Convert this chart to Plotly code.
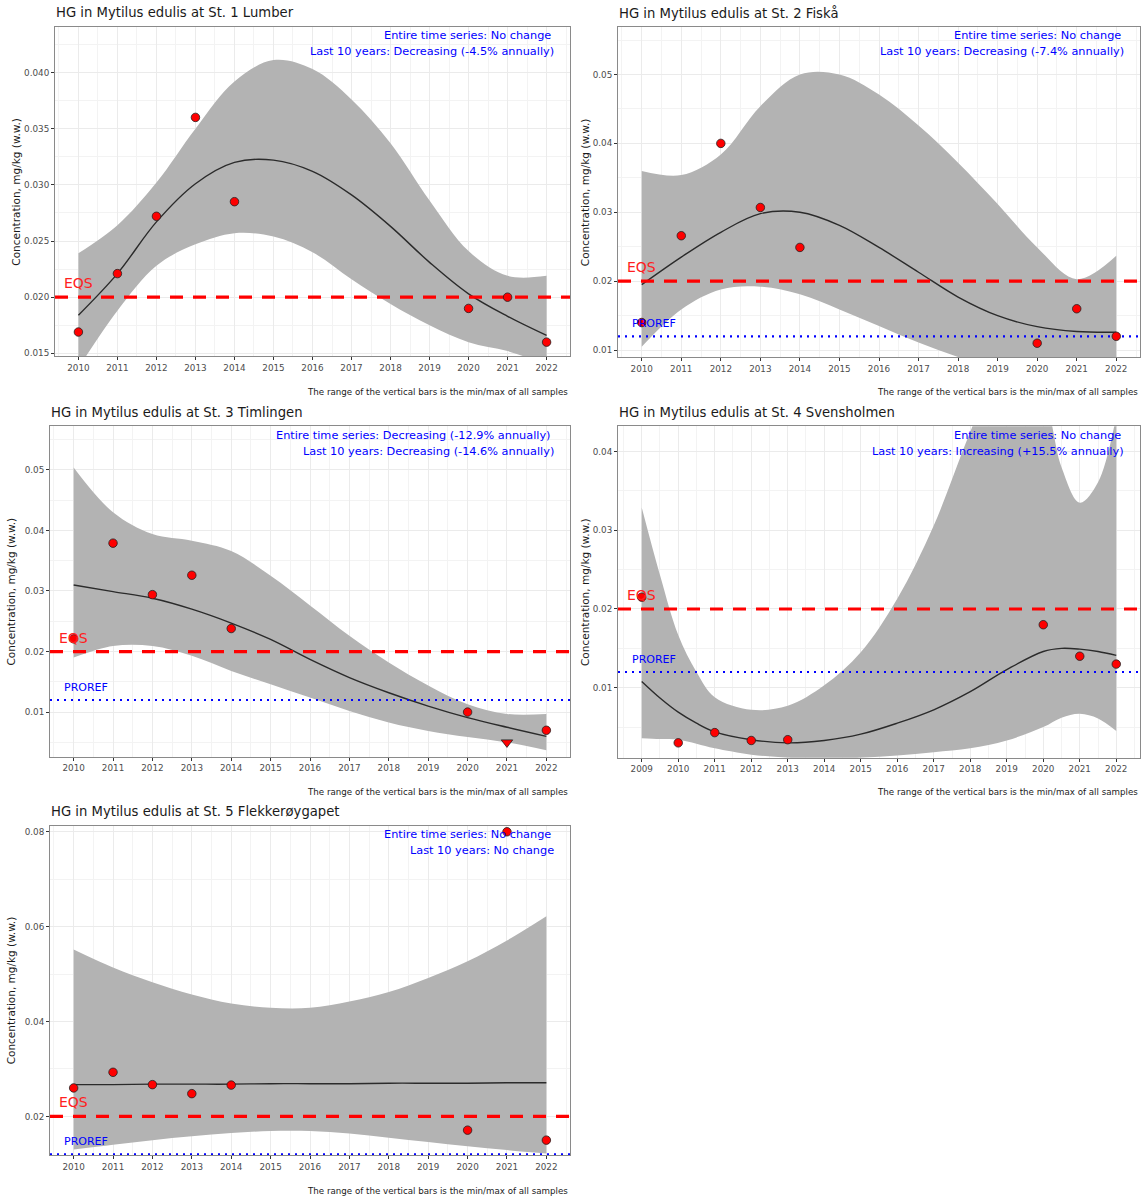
import plotly.graph_objects as go

# Reference levels (mg/kg w.w.)
EQS = 0.020
PROREF = 0.012

# ---- St. 1 Lumber ----
st1_years = [2010, 2011, 2012, 2013, 2014, 2020, 2021, 2022]
st1_conc = [0.0169, 0.0221, 0.0272, 0.0360, 0.0285, 0.0190, 0.0200, 0.0160]
st1_below_loq = [False, False, False, False, False, False, False, False]
st1_fit_x = [2010, 2011, 2012, 2013, 2014, 2015, 2016, 2017, 2018, 2019, 2020, 2021, 2022]
st1_fit = [0.0184, 0.0221, 0.0267, 0.0301, 0.0320, 0.0322, 0.0312, 0.0291, 0.0263, 0.0231, 0.0203, 0.0183, 0.0166]
st1_upper = [0.0239, 0.0264, 0.0302, 0.0350, 0.0392, 0.0411, 0.0403, 0.0376, 0.0337, 0.0286, 0.0241, 0.0219, 0.0219]
st1_lower = [0.0137, 0.0188, 0.0228, 0.0247, 0.0257, 0.0254, 0.0240, 0.0216, 0.0194, 0.0175, 0.0160, 0.0152, 0.0140]
st1_trend = ["Entire time series: No change", "Last 10 years: Decreasing (-4.5% annually)"]

# ---- St. 2 Fiskå ----
st2_years = [2010, 2011, 2012, 2013, 2014, 2020, 2021, 2022]
st2_conc = [0.0140, 0.0266, 0.0400, 0.0307, 0.0249, 0.0110, 0.0160, 0.0120]
st2_below_loq = [False, False, False, False, False, False, False, False]
st2_fit_x = [2010, 2011, 2012, 2013, 2014, 2015, 2016, 2017, 2018, 2019, 2020, 2021, 2022]
st2_fit = [0.0195, 0.0235, 0.0271, 0.0298, 0.0300, 0.0281, 0.0249, 0.0213, 0.0177, 0.0150, 0.0134, 0.0127, 0.0126]
st2_upper = [0.0360, 0.0354, 0.0384, 0.0454, 0.0500, 0.0500, 0.0471, 0.0426, 0.0372, 0.0312, 0.0249, 0.0203, 0.0237]
st2_lower = [0.0105, 0.0159, 0.0188, 0.0192, 0.0181, 0.0159, 0.0135, 0.0111, 0.0090, 0.0073, 0.0062, 0.0055, 0.0058]
st2_trend = ["Entire time series: No change", "Last 10 years: Decreasing (-7.4% annually)"]

# ---- St. 3 Timlingen ----
st3_years = [2010, 2011, 2012, 2013, 2014, 2020, 2021, 2022]
st3_conc = [0.0221, 0.0379, 0.0294, 0.0326, 0.0238, 0.0100, 0.0050, 0.0070]
st3_below_loq = [False, False, False, False, False, False, True, False]
st3_fit_x = [2010, 2011, 2012, 2013, 2014, 2015, 2016, 2017, 2018, 2019, 2020, 2021, 2022]
st3_fit = [0.0310, 0.0299, 0.0288, 0.0270, 0.0247, 0.0220, 0.0187, 0.0157, 0.0132, 0.0110, 0.0091, 0.0075, 0.0060]
st3_upper = [0.0504, 0.0430, 0.0394, 0.0383, 0.0366, 0.0325, 0.0276, 0.0226, 0.0182, 0.0144, 0.0113, 0.0097, 0.0097]
st3_lower = [0.0190, 0.0209, 0.0209, 0.0193, 0.0168, 0.0146, 0.0124, 0.0102, 0.0083, 0.0069, 0.0059, 0.0050, 0.0037]
st3_trend = ["Entire time series: Decreasing (-12.9% annually)", "Last 10 years: Decreasing (-14.6% annually)"]

# ---- St. 4 Svensholmen ----
st4_years = [2009, 2010, 2011, 2012, 2013, 2020, 2021, 2022]
st4_conc = [0.0215, 0.0030, 0.0043, 0.0033, 0.0034, 0.0180, 0.0140, 0.0130]
st4_below_loq = [False, False, False, False, False, False, False, False]
st4_fit_x = [2009, 2009.5, 2010, 2010.5, 2011, 2012, 2013, 2014, 2015, 2016, 2017, 2018, 2019, 2020, 2020.5, 2021, 2021.5, 2022]
st4_fit = [0.0108, 0.0087, 0.0069, 0.0055, 0.0044, 0.0034, 0.0030, 0.0033, 0.0041, 0.0055, 0.0072, 0.0095, 0.0123, 0.0146, 0.0150, 0.0149, 0.0146, 0.0141]
st4_upper = [0.0329, 0.0243, 0.0167, 0.0120, 0.0088, 0.0072, 0.0077, 0.0103, 0.0145, 0.0213, 0.0306, 0.0425, 0.0530, 0.0470, 0.0380, 0.0335, 0.0361, 0.0445]
st4_lower = [0.0036, 0.0035, 0.0034, 0.0029, 0.0023, 0.0015, 0.0011, 0.0009, 0.0011, 0.0014, 0.0018, 0.0023, 0.0033, 0.0050, 0.0062, 0.0067, 0.0061, 0.0045]
st4_trend = ["Entire time series: No change", "Last 10 years: Increasing (+15.5% annually)"]

# ---- St. 5 Flekkerøygapet ----
st5_years = [2010, 2011, 2012, 2013, 2014, 2020, 2021, 2022]
st5_conc = [0.0260, 0.0293, 0.0267, 0.0248, 0.0266, 0.0171, 0.0800, 0.0150]
st5_below_loq = [False, False, False, False, False, False, False, False]
st5_fit_x = [2010, 2011, 2012, 2013, 2014, 2015, 2016, 2017, 2018, 2019, 2020, 2021, 2022]
st5_fit = [0.0267, 0.0267, 0.0268, 0.0268, 0.0268, 0.0269, 0.0269, 0.0269, 0.0270, 0.0270, 0.0270, 0.0271, 0.0271]
st5_upper = [0.0552, 0.0514, 0.0483, 0.0457, 0.0438, 0.0429, 0.0429, 0.0442, 0.0462, 0.0492, 0.0527, 0.0571, 0.0622]
st5_lower = [0.0130, 0.0140, 0.0150, 0.0158, 0.0165, 0.0169, 0.0169, 0.0164, 0.0155, 0.0146, 0.0137, 0.0129, 0.0122]
st5_trend = ["Entire time series: No change", "Last 10 years: No change"]

station_names = ["St. 1 Lumber", "St. 2 Fiskå", "St. 3 Timlingen", "St. 4 Svensholmen", "St. 5 Flekkerøygapet"]

stations = [
    dict(name=station_names[0], years=st1_years, conc=st1_conc, loq=st1_below_loq, fx=st1_fit_x,
         fit=st1_fit, up=st1_upper, lo=st1_lower, trend=st1_trend),
    dict(name=station_names[1], years=st2_years, conc=st2_conc, loq=st2_below_loq, fx=st2_fit_x,
         fit=st2_fit, up=st2_upper, lo=st2_lower, trend=st2_trend),
    dict(name=station_names[2], years=st3_years, conc=st3_conc, loq=st3_below_loq, fx=st3_fit_x,
         fit=st3_fit, up=st3_upper, lo=st3_lower, trend=st3_trend),
    dict(name=station_names[3], years=st4_years, conc=st4_conc, loq=st4_below_loq, fx=st4_fit_x,
         fit=st4_fit, up=st4_upper, lo=st4_lower, trend=st4_trend),
    dict(name=station_names[4], years=st5_years, conc=st5_conc, loq=st5_below_loq, fx=st5_fit_x,
         fit=st5_fit, up=st5_upper, lo=st5_lower, trend=st5_trend),
]

# ---- page geometry (pixels): panel plot boxes, axis ranges, tick settings ----
W, H = 1141, 1198
boxes = [(55, 570, 27, 357), (618, 1140, 27, 358), (50, 570, 427, 758),
         (618, 1140, 427, 759), (50, 570, 827, 1157)]
row_offsets = [0, 0, 400, 400, 800]
xranges = [(2009.4, 2022.6), (2009.4, 2022.6), (2009.4, 2022.6), (2008.35, 2022.65), (2009.4, 2022.6)]
yranges = [(0.01473, 0.04405), (0.00894, 0.0569), (0.00263, 0.0572), (0.00111, 0.0432), (0.01185, 0.0813)]
ydticks = [0.005, 0.01, 0.01, 0.01, 0.02]
yformats = [".3f", ".2f", ".2f", ".2f", ".2f"]

FONT = "DejaVu Sans"
GRID = "#EBEBEB"
MINOR_GRID = "#F3F3F3"
RIBBON = "#B3B3B3"


def fx_(p):
    return p / W


def fy_(p):
    return 1 - p / H


fig = go.Figure()
annotations = []

for i, st in enumerate(stations):
    n = i + 1
    xa, ya = f"x{n}", f"y{n}"
    x0, x1, y0, y1 = boxes[i]
    off = row_offsets[i]
    xr, yr = xranges[i], yranges[i]

    # confidence ribbon
    fig.add_trace(go.Scatter(x=st["fx"], y=st["lo"], mode="lines", line=dict(width=0, shape="spline"),
                             hoverinfo="skip", showlegend=False, xaxis=xa, yaxis=ya))
    fig.add_trace(go.Scatter(x=st["fx"], y=st["up"], mode="lines", line=dict(width=0, shape="spline"),
                             fill="tonexty", fillcolor=RIBBON, hoverinfo="skip", showlegend=False,
                             xaxis=xa, yaxis=ya))
    # smoothed trend
    fig.add_trace(go.Scatter(x=st["fx"], y=st["fit"], mode="lines",
                             line=dict(color="#2b2b2b", width=1.4, shape="spline"),
                             showlegend=False, xaxis=xa, yaxis=ya))
    # EQS and PROREF reference lines
    fig.add_trace(go.Scatter(x=list(xr), y=[EQS, EQS], mode="lines",
                             line=dict(color="#FF0000", width=3.2, dash="13px,10px"),
                             showlegend=False, xaxis=xa, yaxis=ya))
    fig.add_trace(go.Scatter(x=list(xr), y=[PROREF, PROREF], mode="lines",
                             line=dict(color="#0000FF", width=2.2, dash="2px,5px"),
                             showlegend=False, xaxis=xa, yaxis=ya))
    # annual medians
    xs = [y for y, f in zip(st["years"], st["loq"]) if not f]
    ys = [c for c, f in zip(st["conc"], st["loq"]) if not f]
    fig.add_trace(go.Scatter(x=xs, y=ys, mode="markers",
                             marker=dict(color="#FF0000", size=8.5, symbol="circle",
                                         line=dict(color="#222222", width=0.8)),
                             cliponaxis=False, showlegend=False, xaxis=xa, yaxis=ya))
    xl = [y for y, f in zip(st["years"], st["loq"]) if f]
    yl = [c for c, f in zip(st["conc"], st["loq"]) if f]
    if xl:
        fig.add_trace(go.Scatter(x=xl, y=yl, mode="markers",
                                 marker=dict(color="#FF0000", size=10, symbol="triangle-down",
                                             line=dict(color="#222222", width=0.8)),
                                 showlegend=False, xaxis=xa, yaxis=ya))

    first_year = st["years"][0]
    ax_common = dict(showline=True, linecolor="#8a8a8a", linewidth=1, mirror=True,
                     ticks="outside", ticklen=3, tickcolor="#333333", tickwidth=1,
                     tickfont=dict(family=FONT, size=8.8, color="#4d4d4d"),
                     showgrid=True, gridcolor=GRID, gridwidth=1, zeroline=False)
    fig.layout[f"xaxis{n}"] = dict(
        domain=[fx_(x0), fx_(x1)], anchor=ya, range=list(xr),
        tickmode="linear", tick0=first_year, dtick=1,
        minor=dict(tick0=first_year + 0.5, dtick=1, showgrid=True, gridcolor=MINOR_GRID,
                   gridwidth=0.7, ticklen=0),
        **ax_common)
    fig.layout[f"yaxis{n}"] = dict(
        domain=[fy_(y1), fy_(y0)], anchor=xa, range=list(yr),
        tickmode="linear", tick0=0, dtick=ydticks[i], tickformat=yformats[i],
        minor=dict(tick0=ydticks[i] / 2, dtick=ydticks[i], showgrid=True, gridcolor=MINOR_GRID,
                   gridwidth=0.7, ticklen=0),
        **ax_common)

    # panel title
    annotations.append(dict(text=f"HG in Mytilus edulis at {st['name']}", xref="paper", yref="paper",
                            x=fx_(x0 - 1), y=fy_(off + 13), xanchor="left", yanchor="middle",
                            showarrow=False, font=dict(family=FONT, size=13.2, color="#1a1a1a")))
    # y-axis title
    annotations.append(dict(text="Concentration, mg/kg (w.w.)", xref="paper", yref="paper",
                            x=fx_(x0 - 39 if x0 < 100 else x0 - 33), y=fy_((y0 + y1) / 2),
                            xanchor="center", yanchor="middle", textangle=-90, showarrow=False,
                            font=dict(family=FONT, size=10.5, color="#1a1a1a")))
    # trend statements
    annotations.append(dict(text=st["trend"][0], xref="paper", yref="paper",
                            x=fx_(x1 - 17), y=fy_(off + 36), xanchor="right", yanchor="middle",
                            showarrow=False, font=dict(family=FONT, size=11.3, color="#0000FF")))
    annotations.append(dict(text=st["trend"][1], xref="paper", yref="paper",
                            x=fx_(x1 - 14), y=fy_(off + 52), xanchor="right", yanchor="middle",
                            showarrow=False, font=dict(family=FONT, size=11.3, color="#0000FF")))
    # caption
    annotations.append(dict(text="The range of the vertical bars is the min/max of all samples",
                            xref="paper", yref="paper", x=fx_(x1), y=fy_(off + 393),
                            xanchor="right", yanchor="middle", showarrow=False,
                            font=dict(family=FONT, size=8.7, color="#1a1a1a")))
    # reference line labels
    annotations.append(dict(text="EQS", xref=xa, yref=ya, x=first_year, y=EQS,
                            xanchor="center", yanchor="bottom", yshift=4, showarrow=False,
                            font=dict(family=FONT, size=14, color="#FF2020")))
    if yr[0] < PROREF < yr[1]:
        annotations.append(dict(text="PROREF", xref=xa, yref=ya, x=first_year, y=PROREF,
                                xanchor="left", xshift=-12, yanchor="bottom", yshift=4,
                                showarrow=False, font=dict(family=FONT, size=11, color="#0000FF")))

fig.update_layout(
    width=W, height=H, margin=dict(l=0, r=0, t=0, b=0),
    paper_bgcolor="white", plot_bgcolor="white",
    showlegend=False, annotations=annotations,
    font=dict(family=FONT),
)

fig.write_html("out.html")
